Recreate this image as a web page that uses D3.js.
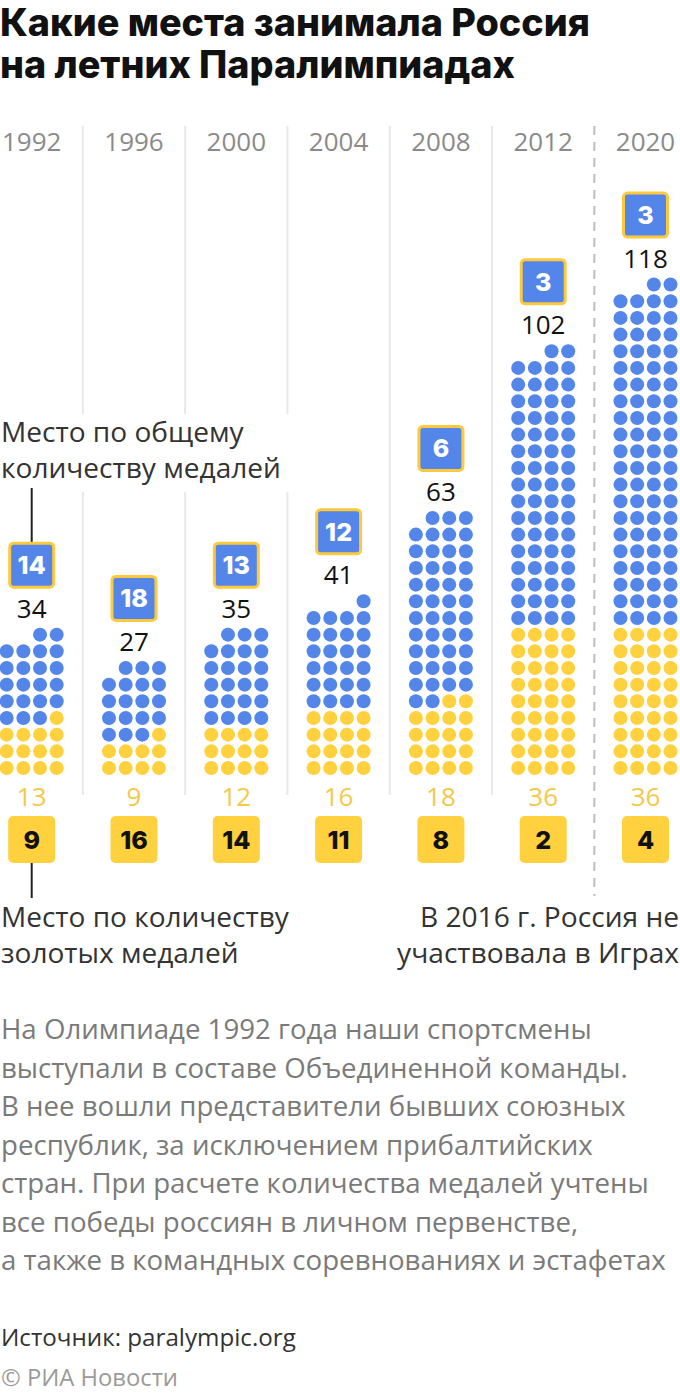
<!DOCTYPE html>
<html><head><meta charset="utf-8">
<script src="https://cdn.jsdelivr.net/npm/d3@7"></script>
<style>
html,body{margin:0;padding:0;background:#fff;}
svg{display:block;}
</style></head>
<body>
<svg id="chart" width="680" height="1394"></svg>
<script>
// ---- data ----
const years = ["1992","1996","2000","2004","2008","2012","2020"];
const totalMedals = [34,27,35,41,63,102,118];
const goldMedals = [13,9,12,16,18,36,36];
const totalRank = [14,18,13,12,6,3,3];
const goldRank = [9,16,14,11,8,2,4];
const titleLines = ["Какие места занимала Россия","на летних Паралимпиадах"];
const noteLines = [
 "На Олимпиаде 1992 года наши спортсмены",
 "выступали в составе Объединенной команды.",
 "В нее вошли представители бывших союзных",
 "республик, за исключением прибалтийских",
 "стран. При расчете количества медалей учтены",
 "все победы россиян в личном первенстве,",
 "а также в командных соревнованиях и эстафетах"
];

const BLUE = "#5486EA", GOLD = "#FFD13E", GOLDTXT = "#F3C94A";
const svg = d3.select("#chart");
const bodyFont = "'Open Sans', sans-serif";
const boldFont = "Inter, 'Noto Sans', sans-serif";

// helper: scale font-size of a selection so that a reference node matches target width
function fit(sel, refNode, target, base){
  const w = refNode.getComputedTextLength();
  sel.attr("font-size", base*target/w);
}

// scales
const x = d3.scalePoint().domain(years).range([31.7, 645.5]);
const step = x.step();
const maxRows = 30;
const rowStep = 16.67;
const y = d3.scaleLinear().domain([0, maxRows]).range([768, 768 - maxRows*rowStep]);
const colOff = d3.scaleLinear().domain([0,3]).range([-1.5*rowStep, 1.5*rowStep]);

// title
const title = svg.append("g");
titleLines.forEach((t,i)=>{
  title.append("text").attr("x",0).attr("y",[36,78][i])
    .attr("font-family",boldFont).attr("font-weight",800)
    .attr("font-size",33).attr("fill","#111").text(t);
});
fit(title.selectAll("text"), title.select("text").node(), 590, 33);

// separators
years.slice(1).forEach((yr,i)=>{
  const sx = x(yr) - step/2;
  const dashed = yr==="2020";
  svg.append("line").attr("x1",sx).attr("x2",sx)
    .attr("y1",126).attr("y2",dashed?896:795)
    .attr("stroke",dashed?"#bdbdbd":"#e8e8e8")
    .attr("stroke-width",2)
    .attr("stroke-dasharray",dashed?"9,7":null);
});

// year labels
svg.append("g").selectAll("text").data(years).join("text")
  .attr("x",d=>x(d)).attr("y",151).attr("text-anchor","middle")
  .attr("font-family",bodyFont).attr("font-size",26).attr("fill","#8a8a8a")
  .text(d=>d);

// annotation top (white background covers separators)
svg.append("rect").attr("x",0).attr("y",414).attr("width",290).attr("height",78).attr("fill","#fff");
const annTop = svg.append("g").attr("font-family",bodyFont).attr("fill","#333").attr("font-size",26);
annTop.append("text").attr("x",1).attr("y",442).text("Место по общему");
const annTop2 = annTop.append("text").attr("x",1).attr("y",478).text("количеству медалей");
fit(annTop, annTop2.node(), 280, 26);
svg.append("line").attr("x1",x("1992")).attr("x2",x("1992")).attr("y1",488).attr("y2",543).attr("stroke","#222").attr("stroke-width",2);

// dots
const cols = svg.append("g");
years.forEach((yr,i)=>{
  const n = totalMedals[i], g = goldMedals[i];
  const dots = d3.range(n).map(k=>({k, row:Math.floor(k/4), col:3-(k%4), gold:k<g}));
  const cx = x(yr);
  cols.append("g").selectAll("circle").data(dots).join("circle")
    .attr("cx",d=>cx+colOff(d.col)).attr("cy",d=>y(d.row)).attr("r",7)
    .attr("fill",d=>d.gold?GOLD:BLUE);
  const topRow = Math.ceil(n/4)-1;
  const labY = y(topRow) - 17;
  cols.append("text").attr("x",cx).attr("y",labY).attr("text-anchor","middle")
    .attr("font-family",bodyFont).attr("font-size",26).attr("fill","#111").text(n);
  // blue badge
  const bcy = labY - 29 - 23.5;
  cols.append("rect").attr("x",cx-22).attr("y",bcy-22).attr("width",44).attr("height",44)
    .attr("rx",4).attr("fill",BLUE).attr("stroke","#FFC93C").attr("stroke-width",3);
  cols.append("text").attr("x",cx).attr("y",bcy+9).attr("text-anchor","middle")
    .attr("font-family",boldFont).attr("font-weight",800).attr("font-size",25).attr("fill","#fff")
    .text(totalRank[i]);
  // gold count
  cols.append("text").attr("x",cx).attr("y",806).attr("text-anchor","middle")
    .attr("font-family",bodyFont).attr("font-size",26).attr("fill",GOLDTXT).text(g);
  // gold badge
  cols.append("rect").attr("x",cx-23.5).attr("y",816).attr("width",47).attr("height",47)
    .attr("rx",5).attr("fill",GOLD);
  cols.append("text").attr("x",cx).attr("y",848.5).attr("text-anchor","middle")
    .attr("font-family",boldFont).attr("font-weight",800).attr("font-size",25).attr("fill","#111")
    .text(goldRank[i]);
});

// bottom annotations
svg.append("line").attr("x1",x("1992")).attr("x2",x("1992")).attr("y1",863).attr("y2",898).attr("stroke","#222").attr("stroke-width",2);
const annBL = svg.append("g").attr("font-family",bodyFont).attr("fill","#333").attr("font-size",26);
const bl1 = annBL.append("text").attr("x",1).attr("y",927).text("Место по количеству");
annBL.append("text").attr("x",1).attr("y",963).text("золотых медалей");
fit(annBL, bl1.node(), 288, 26);
const annBR = svg.append("g").attr("font-family",bodyFont).attr("fill","#333").attr("font-size",26).attr("text-anchor","end");
annBR.append("text").attr("x",679).attr("y",927).text("В 2016 г. Россия не");
const br2 = annBR.append("text").attr("x",679).attr("y",963).text("участвовала в Играх");
fit(annBR, br2.node(), 282, 26);

// note
const note = svg.append("g").attr("font-family",bodyFont).attr("font-size",25).attr("fill","#7a7a7a");
note.selectAll("text").data(noteLines).join("text")
  .attr("x",1).attr("y",(d,i)=>1039 + i*38.5).text(d=>d);
fit(note, note.selectAll("text").nodes()[6], 665, 25);

// source
const src = svg.append("text").attr("x",1).attr("y",1346).attr("font-family",bodyFont).attr("font-size",22.5).attr("fill","#333").text("Источник: paralympic.org");
fit(src, src.node(), 295, 22.5);
const cr = svg.append("text").attr("x",1).attr("y",1386).attr("font-family",bodyFont).attr("font-size",21.5).attr("fill","#9a9a9a").text("© РИА Новости");
fit(cr, cr.node(), 177, 21.5);
</script>
</body></html>
